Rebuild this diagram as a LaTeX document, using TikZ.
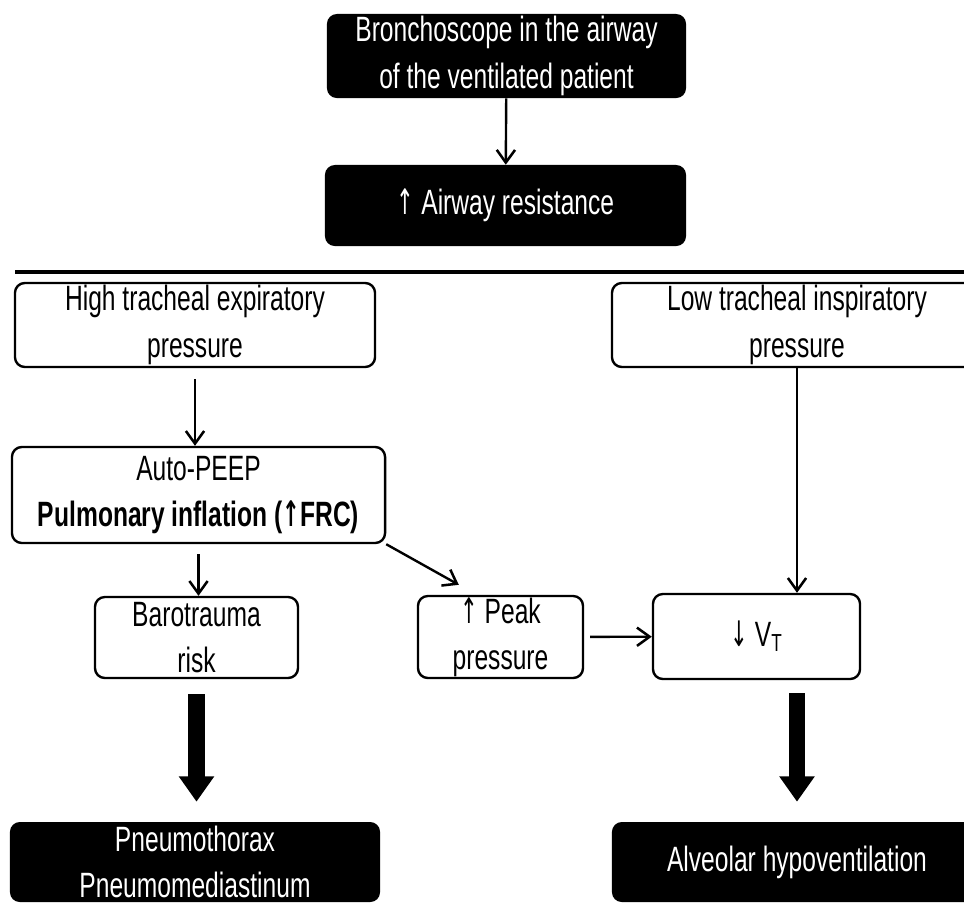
\documentclass[tikz,border=0pt]{standalone}
\usepackage{fontspec}
\setmainfont{Liberation Sans}[FakeStretch=0.7]
\newfontfamily\arrowfont{DejaVu Sans}[FakeStretch=0.6]
\usepackage{tikz}
\usetikzlibrary{arrows.meta, calc}

\newcommand{\uparr}{{\arrowfont ↑}}
\newcommand{\downarr}{{\arrowfont ↓}}

\begin{document}
\begin{tikzpicture}[x=0.025cm, y=-0.025cm, font=\fontsize{25}{33}\selectfont]

\tikzstyle{darkbox} = [rectangle, rounded corners=7pt, fill=black, text=white, align=center, inner sep=0pt]
\tikzstyle{lightbox} = [rectangle, rounded corners=7pt, draw=black, line width=1.7pt, fill=white, align=center, inner sep=0pt]
\tikzstyle{arrow} = [line width=1.7pt, -{Straight Barb[length=9pt, width=13pt, line width=1.8pt]}]
\tikzstyle{bigarrow} = [line width=11.5pt, -{Triangle[length=18pt, width=24pt]}]

\clip (0,0) rectangle (964,904);

\node (bronch) [darkbox, minimum width=8.975cm, minimum height=2.1cm] at (506.5,56) {Bronchoscope in the airway\\of the ventilated patient};
\node (resist) [darkbox, minimum width=9.025cm, minimum height=2.025cm] at (505.5,205.5) {\uparr\ Airway resistance};

\coordinate (ruleL) at (15,272);
\coordinate (ruleR) at (964,272);
\draw [line width=2.6pt] (ruleL) -- (ruleR);

\node (high) [lightbox, minimum width=9cm, minimum height=2.1cm] at (195,325) {High tracheal expiratory\\pressure};
\node (low) [lightbox, minimum width=9.25cm, minimum height=2.1cm] at (797,325) {Low tracheal inspiratory\\pressure};
\node (peep) [lightbox, minimum width=9.325cm, minimum height=2.4cm] at (198.5,495) {Auto-PEEP\\\textbf{Pulmonary inflation (\uparr FRC)}};
\node (baro) [lightbox, minimum width=5.075cm, minimum height=2.025cm] at (196.5,637.5) {Barotrauma\\risk};
\node (peak) [lightbox, minimum width=4.125cm, minimum height=2.05cm] at (500.5,637) {\uparr\ Peak\\pressure};
\node (vt) [lightbox, minimum width=5.175cm, minimum height=2.125cm] at (756.5,636.5) {\downarr\ V\textsubscript{T}};
\node (pneumo) [darkbox, minimum width=9.25cm, minimum height=2cm] at (195,862) {Pneumothorax\\Pneumomediastinum};
\node (hypo) [darkbox, minimum width=9.25cm, minimum height=2cm] at (797,862) {Alveolar hypoventilation};

\draw [arrow] (bronch) -- (resist);
\draw [arrow, shorten <=0.275cm] (high) -- (high |- peep.north);
\draw [arrow, shorten <=0.25cm] (peep) -- (peep |- baro.north);
\draw [arrow] (peep.south east) -- ($(peak.north west)+(42,-10)$);
\draw [arrow, shorten <=0.15cm] (peak) -- (vt);
\draw [arrow] (low) -- (low |- vt.north);

\draw [bigarrow, shorten <=0.375cm, shorten >=0.5cm] (baro) -- (baro |- pneumo.north);
\draw [bigarrow, shorten <=0.325cm, shorten >=0.5cm] (low |- vt.south) -- (low |- hypo.north);

\end{tikzpicture}
\end{document}
